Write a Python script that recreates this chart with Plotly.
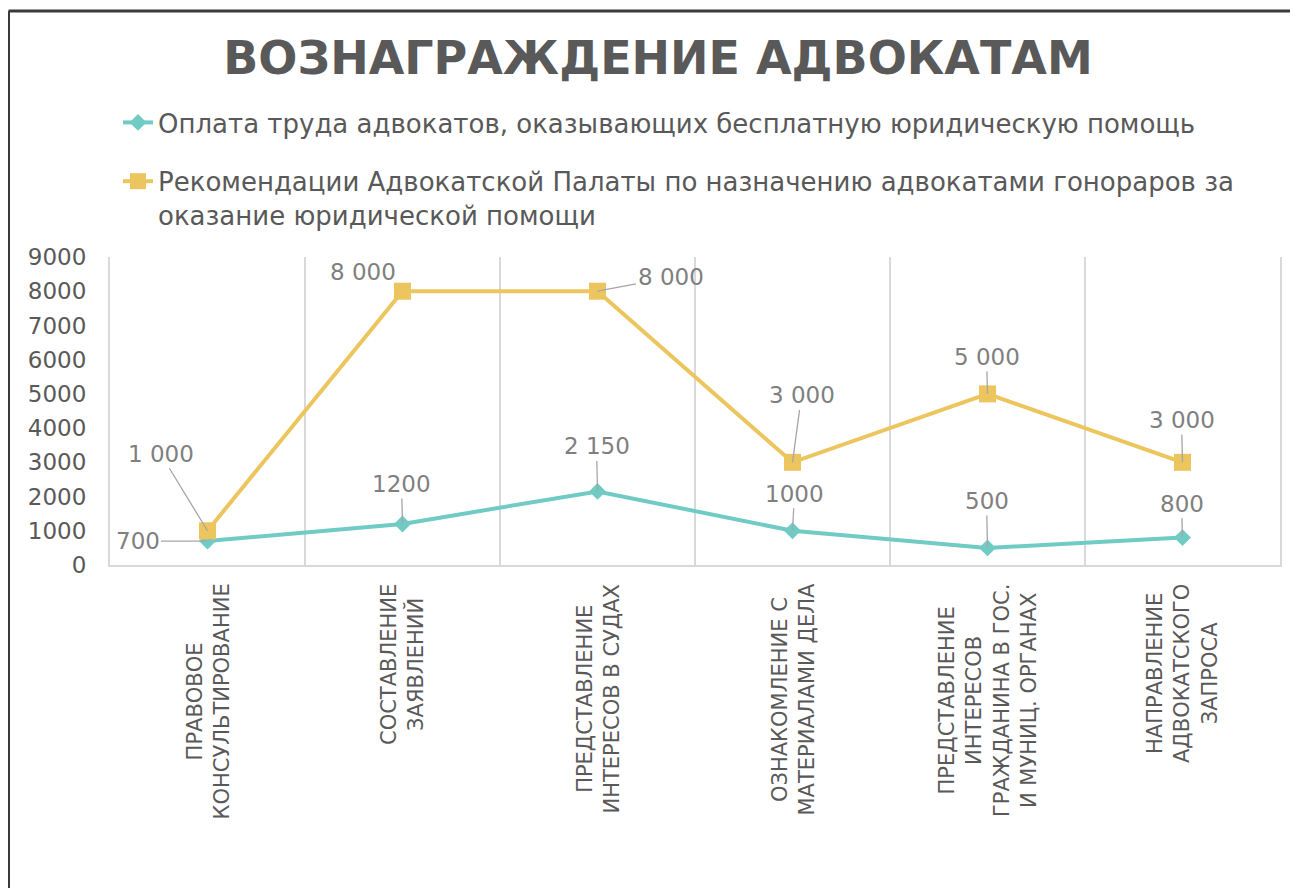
import plotly.graph_objects as go

# ---------------- data ----------------
categories = [
    "ПРАВОВОЕ<br>КОНСУЛЬТИРОВАНИЕ",
    "СОСТАВЛЕНИЕ<br>ЗАЯВЛЕНИЙ",
    "ПРЕДСТАВЛЕНИЕ<br>ИНТЕРЕСОВ В СУДАХ",
    "ОЗНАКОМЛЕНИЕ С<br>МАТЕРИАЛАМИ ДЕЛА",
    "ПРЕДСТАВЛЕНИЕ<br>ИНТЕРЕСОВ<br>ГРАЖДАНИНА В ГОС.<br>И МУНИЦ. ОРГАНАХ",
    "НАПРАВЛЕНИЕ<br>АДВОКАТСКОГО<br>ЗАПРОСА",
]
free_aid_name = "Оплата труда адвокатов, оказывающих бесплатную юридическую помощь"
free_aid = [700, 1200, 2150, 1000, 500, 800]
free_aid_labels = ["700", "1200", "2 150", "1000", "500", "800"]

chamber_name = ("Рекомендации Адвокатской Палаты по назначению адвокатами гонораров за"
                "<br>оказание юридической помощи")
chamber = [1000, 8000, 8000, 3000, 5000, 3000]
chamber_labels = ["1 000", "8 000", "8 000", "3 000", "5 000", "3 000"]

y_ticks = [0, 1000, 2000, 3000, 4000, 5000, 6000, 7000, 8000, 9000]
title_text = "ВОЗНАГРАЖДЕНИЕ АДВОКАТАМ"

# ---------------- styles ----------------
TEAL = "#6FCBC3"
GOLD = "#EDC55F"
TXT = "#595959"
LBL = "#7F7F7F"
GRID = "#D9D9D9"
FONT = "DejaVu Sans"

W, H = 1290, 880           # page body has an 8px margin
L, R, T, B = 102, 18, 249, 323
PW, PH = W - L - R, H - T - B


def px_x(p):
    return (p - L) / PW


def px_y(p):
    return (H - B - p) / PH


# label offsets (pixels) relative to each point
free_off = [(-70, 0), (-1, -40), (-1, -45), (2, -37), (-1, -47), (-1, -34)]
chamber_off = [(-47, -77), (-40, -19), (73, -14), (9, -67), (-1, -37), (-1, -42)]
hide_leader_chamber = [False, True, False, False, False, False]

fig = go.Figure()
fig.add_trace(go.Scatter(
    x=categories, y=free_aid, name=free_aid_name, mode="lines+markers",
    line=dict(color=TEAL, width=4),
    marker=dict(symbol="diamond", size=13, color=TEAL),
    legendgroup="a",
))
fig.add_trace(go.Scatter(
    x=categories, y=chamber, name=chamber_name, mode="lines+markers",
    line=dict(color=GOLD, width=4),
    marker=dict(symbol="square", size=17, color=GOLD),
    legendgroup="b",
))

annotations = []
for cat, val, lab, (ax, ay) in zip(categories, free_aid, free_aid_labels, free_off):
    annotations.append(dict(
        x=cat, y=val, xref="x", yref="y", text=lab, showarrow=True,
        arrowhead=0, arrowwidth=1.3, arrowcolor="#A6A6A6", ax=ax, ay=ay,
        standoff=0, font=dict(family=FONT, size=23, color=LBL),
    ))
for cat, val, lab, (ax, ay), hide in zip(categories, chamber, chamber_labels,
                                          chamber_off, hide_leader_chamber):
    annotations.append(dict(
        x=cat, y=val, xref="x", yref="y", text=lab, showarrow=True,
        arrowhead=0, arrowwidth=1.3,
        arrowcolor="rgba(0,0,0,0)" if hide else "#A6A6A6", ax=ax, ay=ay,
        standoff=0, font=dict(family=FONT, size=23, color=LBL),
    ))
for cat in categories:
    annotations.append(dict(
        x=cat, y=px_y(574), xref="x", yref="paper", text=cat, showarrow=False,
        textangle=-90, xanchor="center", yanchor="top", align="center",
        font=dict(family=FONT, size=21, color=TXT),
    ))

fig.update_layout(
    width=W, height=H,
    margin=dict(l=L, r=R, t=T, b=B, autoexpand=False),
    paper_bgcolor="white", plot_bgcolor="white",
    title=dict(
        text="<b>" + title_text + "</b>", x=650 / W, xanchor="center",
        y=1 - 50 / H, yref="container", yanchor="middle",
        font=dict(family=FONT, size=46, color=TXT),
    ),
    legend=dict(
        x=px_x(110), xanchor="left", y=px_y(91), yanchor="top",
        font=dict(family=FONT, size=26, color=TXT),
        tracegroupgap=22, valign="top", bgcolor="rgba(0,0,0,0)",
    ),
    showlegend=True,
    annotations=annotations,
    xaxis=dict(
        type="category", tickson="boundaries", showticklabels=False,
        showgrid=True, gridcolor=GRID, gridwidth=2,
        showline=True, linecolor=GRID, linewidth=2, ticks="",
        range=[-0.5, 5.5], fixedrange=True,
    ),
    yaxis=dict(
        range=[0, 9000], tickvals=y_ticks, ticktext=[str(v) for v in y_ticks],
        showgrid=False, zeroline=False, showline=True, mirror=True,
        linecolor=GRID, linewidth=2, ticks="", ticklabelstandoff=17,
        tickfont=dict(family=FONT, size=23, color=TXT),
    ),
    shapes=[
        dict(type="line", xref="paper", yref="paper",
             x0=px_x(0.5), x1=px_x(0.5), y0=px_y(3), y1=px_y(900),
             line=dict(color="#3A3A3A", width=3)),
        dict(type="line", xref="paper", yref="paper",
             x0=px_x(0.5), x1=px_x(1310), y0=px_y(3), y1=px_y(3),
             line=dict(color="#3A3A3A", width=3)),
    ],
)

fig.write_html("out.html")
